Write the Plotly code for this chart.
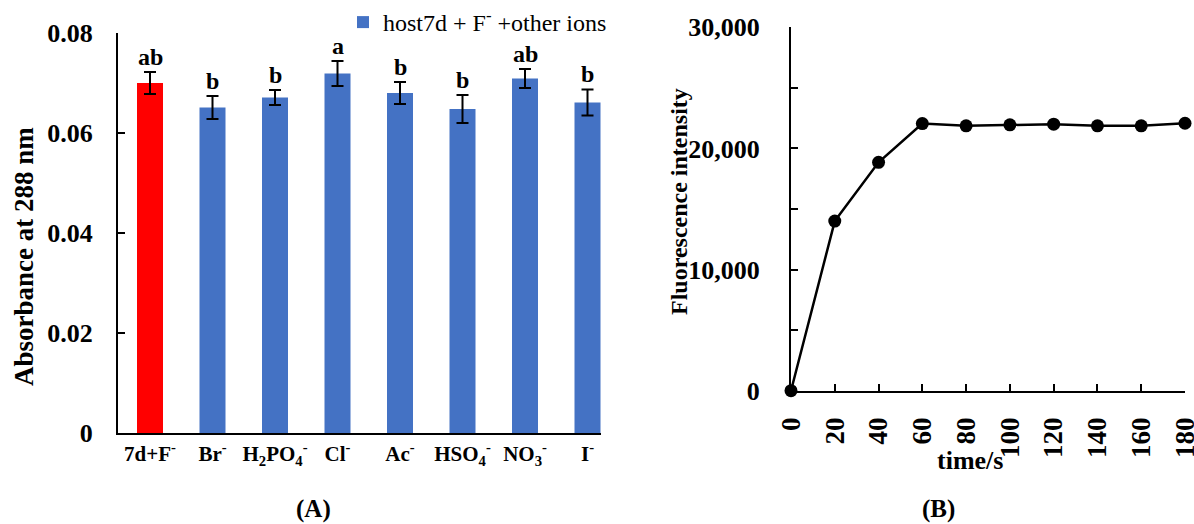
import plotly.graph_objects as go

# ---------------- data ----------------
categories = ["7d+F-", "Br-", "H2PO4-", "Cl-", "Ac-", "HSO4-", "NO3-", "I-"]
category_labels = ["7d+F<sup>-</sup>", "Br<sup>-</sup>",
                   "H<sub>2</sub>PO<sub>4</sub><sup>-</sup>", "Cl<sup>-</sup>",
                   "Ac<sup>-</sup>", "HSO<sub>4</sub><sup>-</sup>",
                   "NO<sub>3</sub><sup>-</sup>", "I<sup>-</sup>"]
absorbance = [0.0700, 0.0651, 0.0671, 0.0719, 0.0680, 0.0648, 0.0709, 0.0661]
abs_error = [0.0022, 0.0023, 0.0015, 0.0025, 0.0022, 0.0028, 0.0019, 0.0026]
letters = ["ab", "b", "b", "a", "b", "b", "ab", "b"]
legend_name = "host7d + F<sup>-</sup> +other ions"

times = [0, 20, 40, 60, 80, 100, 120, 140, 160, 180]
fluorescence = [0, 14000, 18850, 22050, 21870, 21950, 22000, 21870, 21870, 22080]

abs_ticks = [0, 0.02, 0.04, 0.06, 0.08]
abs_ticktext = ["0", "0.02", "0.04", "0.06", "0.08"]
fl_ticks = [0, 10000, 20000, 30000]
fl_ticktext = ["0", "10,000", "20,000", "30,000"]

# ---------------- figure ----------------
W, H = 1194, 524
FONT = "Liberation Serif"
RED = "#FF0000"
BLUE = "#4472C4"

fig = go.Figure()

fig.add_trace(go.Bar(
    x=categories[:1], y=absorbance[:1],
    error_y=dict(type="data", array=abs_error[:1], color="black", thickness=2, width=6),
    marker=dict(color=RED, line=dict(width=0)),
    width=0.416, showlegend=False, xaxis="x", yaxis="y"))
fig.add_trace(go.Bar(
    x=categories[1:], y=absorbance[1:],
    error_y=dict(type="data", array=abs_error[1:], color="black", thickness=2, width=6),
    marker=dict(color=BLUE, line=dict(width=0)),
    width=0.416, name=legend_name, showlegend=True, xaxis="x", yaxis="y"))

fig.add_trace(go.Scatter(
    x=times, y=fluorescence, mode="lines+markers",
    line=dict(color="black", width=2.5),
    marker=dict(color="black", size=13),
    cliponaxis=False, showlegend=False, xaxis="x2", yaxis="y2"))

# significance letters
for c, v, e, t in zip(categories, absorbance, abs_error, letters):
    fig.add_annotation(x=c, y=v + e, xref="x", yref="y", text=t, showarrow=False,
                       xanchor="center", yanchor="bottom", yshift=0,
                       font=dict(family=FONT, size=24, color="black", weight="bold"))

def px_x(p):
    return p / W

def px_y(p):
    return 1 - p / H

axis_common = dict(showline=True, linecolor="black", linewidth=2, showgrid=False,
                   zeroline=False, mirror=False, automargin=False)

fig.update_layout(
    width=W, height=H, margin=dict(l=0, r=0, t=0, b=0, autoexpand=False),
    paper_bgcolor="white", plot_bgcolor="white",
    barmode="overlay",
    font=dict(family=FONT, color="black"),
    xaxis=dict(domain=[px_x(118), px_x(601)], anchor="y", type="category",
               categoryorder="array", categoryarray=categories,
               range=[-0.512, 7.216], ticks="",
               tickvals=categories, ticktext=category_labels,
               tickfont=dict(family=FONT, size=21, color="black", weight="bold"),
               ticklabelstandoff=1, **axis_common),
    yaxis=dict(domain=[px_y(433), px_y(33)], anchor="x", range=[0, 0.08],
               tickvals=abs_ticks, ticktext=abs_ticktext,
               ticks="inside", ticklen=7, tickwidth=2, tickcolor="black",
               tickfont=dict(family=FONT, size=26, color="black", weight="bold"),
               ticklabelstandoff=18, **axis_common),
    xaxis2=dict(domain=[px_x(791), px_x(1185)], anchor="y2", range=[0, 180],
                tickvals=times, ticks="inside", ticklen=7, tickwidth=2, tickcolor="black",
                tickangle=-90, ticklabeloverflow="allow",
                tickfont=dict(family=FONT, size=27, color="black", weight="bold"),
                ticklabelstandoff=14, **axis_common),
    yaxis2=dict(domain=[px_y(390.7), px_y(27.3)], anchor="x2", range=[0, 30000],
                tickvals=fl_ticks, ticktext=fl_ticktext,
                ticks="inside", ticklen=7, tickwidth=2, tickcolor="black",
                minor=dict(tickvals=[5000, 15000, 25000], ticks="inside", ticklen=7,
                           tickwidth=2, tickcolor="black"),
                tickfont=dict(family=FONT, size=26, color="black", weight="bold"),
                ticklabelstandoff=24, **axis_common),
    legend=dict(x=px_x(343), y=1.0, xanchor="left", yanchor="top",
                bgcolor="rgba(0,0,0,0)",
                font=dict(family=FONT, size=24, color="black")),
)

# axis titles and panel labels
def label(x, y, text, size, angle=0):
    fig.add_annotation(x=px_x(x), y=px_y(y), xref="paper", yref="paper",
                       text=text, textangle=angle, showarrow=False,
                       xanchor="center", yanchor="middle",
                       font=dict(family=FONT, size=size, color="black", weight="bold"))

label(24, 257, "Absorbance at 288 nm", 27, -90)
label(679, 202, "Fluorescence intensity", 24, -90)
label(970, 460, "time/s", 26)
label(313, 509, "(A)", 25)
label(938, 509, "(B)", 25)

fig.write_html("out.html")
